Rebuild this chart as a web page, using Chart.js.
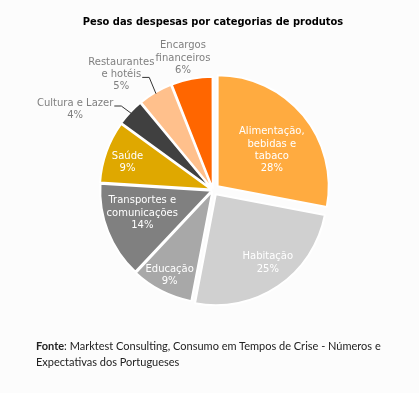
<!DOCTYPE html>
<html lang="pt">
  <head>
    <meta charset="UTF-8" />
    <title>Peso das despesas</title>
    <style>
      html, body { margin: 0; padding: 0; background: #fcfcfc; }
      .wrap { position: relative; width: 419px; height: 393px; }
      #pie { position: absolute; left: 0; top: 0; }
      .fonte {
        position: absolute; left: 36px; top: 338px;
        font: 11px Lato, sans-serif; line-height: 16px; color: #222;
      }
    </style>
  </head>
  <body>
    <div class="wrap">
      <canvas id="pie" width="419" height="339"></canvas>
      <div class="fonte"><b>Fonte</b>: Marktest Consulting, Consumo em Tempos de Crise - Números e<br />Expectativas dos Portugueses</div>
    </div>

    <script src="https://cdn.jsdelivr.net/npm/chart.js"></script>

    <script>
      const categories = [
        "Alimentação,\nbebidas e\ntabaco",
        "Habitação",
        "Educação",
        "Transportes e\ncomunicações",
        "Saúde",
        "Cultura e Lazer",
        "Restaurantes\ne hotéis",
        "Encargos\nfinanceiros",
      ];
      const values = [28, 25, 9, 14, 9, 4, 5, 6];

      const colors = ["#ffab40", "#d0d0d0", "#a8a8a8", "#808080", "#dfa800", "#404040", "#ffc08c", "#ff6600"];
      const offsets = [24, 20, 6, 6, 6, 6, 6, 6];
      // label placement: fraction of radius, angle shift in degrees
      const labelRadius = [0.64, 0.82, 0.86, 0.67, 0.81, 1.44, 1.33, 1.22];
      const labelShift = [5.5, -2.8, 0, 3.6, -1.8, -12.8, -7.8, -2];
      const leaderLine = [null, null, null, null, null, 0, 1, null];

      const sliceLabels = {
        id: "sliceLabels",
        afterDatasetsDraw(chart) {
          const ctx = chart.ctx;
          const meta = chart.getDatasetMeta(0);
          ctx.save();
          ctx.font = "10px 'DejaVu Sans'";
          ctx.textAlign = "center";
          ctx.textBaseline = "middle";
          meta.data.forEach((arc, i) => {
            const p = arc.getProps(["x", "y", "startAngle", "endAngle", "outerRadius"], true);
            const mid = (p.startAngle + p.endAngle) / 2;
            const a = mid + (labelShift[i] * Math.PI) / 180;
            const r = p.outerRadius * labelRadius[i];
            const cx = p.x + Math.cos(a) * r;
            const cy = p.y + Math.sin(a) * r;
            const lines = categories[i].split("\n").concat(values[i] + "%");
            const lh = 12.4;
            const y0 = cy - ((lines.length - 1) * lh) / 2;
            const outside = labelRadius[i] > 1;
            ctx.fillStyle = outside ? "#7f7f7f" : "#ffffff";
            lines.forEach((t, k) => ctx.fillText(t, cx, y0 + k * lh));

            // leader line for the small outer labels
            if (leaderLine[i] !== null) {
              const k = leaderLine[i];
              const ly = y0 + k * lh + 3;
              const lx = cx + ctx.measureText(lines[k]).width / 2 + 1;
              const ex = p.x + Math.cos(mid) * (p.outerRadius + 1);
              const ey = p.y + Math.sin(mid) * (p.outerRadius + 1);
              ctx.strokeStyle = "#333";
              ctx.lineWidth = 1;
              ctx.beginPath();
              ctx.moveTo(lx, ly);
              ctx.lineTo(lx + 7, ly);
              ctx.lineTo(ex, ey);
              ctx.stroke();
            }
          });
          ctx.restore();
        },
      };

      const chart = new Chart(document.getElementById("pie"), {
        type: "pie",
        data: {
          labels: categories,
          datasets: [
            {
              data: values,
              backgroundColor: colors,
              borderColor: "#ffffff",
              borderWidth: 2,
              offset: offsets,
              radius: 111,
            },
          ],
        },
        options: {
          responsive: false,
          animation: false,
          events: [],
          layout: { padding: { left: 60, right: 53, top: 0, bottom: 0 } },
          plugins: {
            legend: { display: false },
            tooltip: { enabled: false },
            title: {
              display: true,
              text: "Peso das despesas por categorias de produtos",
              color: "#000",
              font: { family: "'DejaVu Sans Condensed'", size: 11, weight: "bold" },
              padding: { top: 16, bottom: 12 },
            },
          },
        },
        plugins: [sliceLabels],
      });
    </script>
  </body>
</html>
